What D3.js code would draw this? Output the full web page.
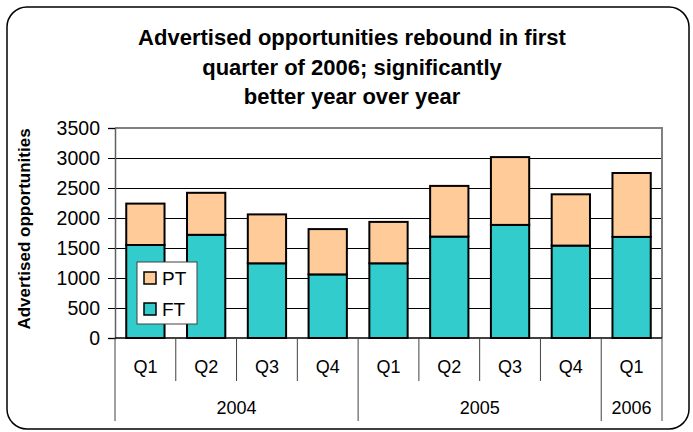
<!DOCTYPE html>
<html>
<head>
<meta charset="utf-8">
<script src="https://cdn.jsdelivr.net/npm/d3@7"></script>
<style>
  html, body { margin: 0; padding: 0; background: #fff; }
  svg { display: block; font-family: "Liberation Sans", Arial, sans-serif; }
</style>
</head>
<body>
<svg id="chart" width="693" height="432"></svg>
<script>
// Quarterly advertised opportunities, full-time and part-time
const quarters = ["Q1", "Q2", "Q3", "Q4", "Q1", "Q2", "Q3", "Q4", "Q1"];
const years = ["2004", "2004", "2004", "2004", "2005", "2005", "2005", "2005", "2006"];
const ftValues = [1550, 1720, 1245, 1060, 1245, 1690, 1885, 1540, 1685];
const ptValues = [690, 700, 815, 755, 690, 845, 1130, 855, 1065];
const yTicks = [0, 500, 1000, 1500, 2000, 2500, 3000, 3500];
const seriesNames = ["FT", "PT"];
const seriesColors = ["#33CCCC", "#FFCC99"];
const titleLines = ["Advertised opportunities rebound in first",
                    "quarter of 2006; significantly",
                    "better year over year"];
const yTitle = "Advertised opportunities";

const svg = d3.select("#chart");
const plot = { left: 115, right: 662, top: 128, bottom: 338 };
const labelFont = 18;

// outer frame with rounded corners
svg.append("rect")
  .attr("x", 7).attr("y", 7).attr("width", 682).attr("height", 422)
  .attr("rx", 20).attr("ry", 20)
  .attr("fill", "#fff").attr("stroke", "#000").attr("stroke-width", 1.5);

// title
svg.append("g").selectAll("text").data(titleLines).join("text")
  .attr("x", 352).attr("y", (d, i) => 45 + i * 29.5)
  .attr("text-anchor", "middle")
  .attr("font-size", 22).attr("font-weight", "bold")
  .text(d => d);

const idx = d3.range(quarters.length);
const x = d3.scaleBand().domain(idx).range([plot.left, plot.right])
  .paddingInner(0.37).paddingOuter(0.185);
const step = x.step();
const y = d3.scaleLinear().domain([0, 3500]).range([plot.bottom, plot.top]);

// gridlines
svg.append("g").selectAll("line").data(yTicks.filter(t => t > 0 && t < 3500)).join("line")
  .attr("x1", plot.left).attr("x2", plot.right)
  .attr("y1", d => Math.round(y(d)) + 0.5).attr("y2", d => Math.round(y(d)) + 0.5)
  .attr("stroke", "#000").attr("stroke-width", 1);

// plot area border (top and right)
svg.append("path")
  .attr("d", `M${plot.left},${y(3500)}H${plot.right}V${plot.bottom}`)
  .attr("fill", "none").attr("stroke", "#808080").attr("stroke-width", 2);

// stacked bars
const rows = idx.map(i => ({ i, FT: ftValues[i], PT: ptValues[i] }));
const stacked = d3.stack().keys(seriesNames)(rows);
const color = d3.scaleOrdinal().domain(seriesNames).range(seriesColors);

svg.append("g").selectAll("g").data(stacked).join("g")
  .attr("fill", d => color(d.key))
  .selectAll("rect").data(d => d).join("rect")
  .attr("x", d => x(d.data.i))
  .attr("width", x.bandwidth())
  .attr("y", d => y(d[1]))
  .attr("height", d => y(d[0]) - y(d[1]))
  .attr("stroke", "#000").attr("stroke-width", 2);

// value axis
const yAxis = d3.axisLeft(y).tickValues(yTicks).tickSize(7).tickPadding(8).tickFormat(d3.format("d"));
const gy = svg.append("g").attr("transform", `translate(${plot.left},0)`).call(yAxis);
gy.select(".domain").attr("stroke", "#606060").attr("stroke-width", 1.5);
gy.selectAll(".tick line").attr("stroke", "#000");
gy.selectAll(".tick text").attr("font-size", 19.5).attr("fill", "#000")
  .attr("font-family", "Liberation Sans, Arial, sans-serif");

// value axis title
svg.append("text")
  .attr("transform", `translate(30,${(plot.top + plot.bottom) / 2 - 4}) rotate(-90)`)
  .attr("text-anchor", "middle")
  .attr("font-size", 17).attr("font-weight", "bold")
  .text(yTitle);

// category axis: baseline, separators, quarter and year labels
svg.append("line")
  .attr("x1", plot.left).attr("x2", plot.right)
  .attr("y1", plot.bottom).attr("y2", plot.bottom)
  .attr("stroke", "#000").attr("stroke-width", 1.5);

const bounds = d3.range(quarters.length + 1);
const isYearBound = b => b === 0 || b === quarters.length || years[b] !== years[b - 1];
svg.append("g").selectAll("line").data(bounds).join("line")
  .attr("x1", b => plot.left + b * step).attr("x2", b => plot.left + b * step)
  .attr("y1", plot.bottom).attr("y2", b => isYearBound(b) ? 421 : 381)
  .attr("stroke", "#404040").attr("stroke-width", 1);

svg.append("g").selectAll("text").data(idx).join("text")
  .attr("x", i => plot.left + (i + 0.5) * step)
  .attr("y", 373)
  .attr("text-anchor", "middle").attr("font-size", labelFont)
  .text(i => quarters[i]);

const yearGroups = d3.groups(idx, i => years[i]);
svg.append("g").selectAll("text").data(yearGroups).join("text")
  .attr("x", g => plot.left + (d3.min(g[1]) + d3.max(g[1]) + 1) / 2 * step)
  .attr("y", 414)
  .attr("text-anchor", "middle").attr("font-size", labelFont)
  .text(g => g[0]);

// legend
const lg = svg.append("g").attr("transform", "translate(137,262)");
lg.append("rect").attr("width", 60).attr("height", 62)
  .attr("fill", "#fff").attr("stroke", "#404040").attr("stroke-width", 1);
const legendItems = ["PT", "FT"];
lg.selectAll("g.item").data(legendItems).join("g").attr("class", "item")
  .attr("transform", (d, i) => `translate(7,${10 + i * 31})`)
  .each(function (d) {
    const g = d3.select(this);
    g.append("rect").attr("width", 12).attr("height", 12)
      .attr("fill", color(d)).attr("stroke", "#000").attr("stroke-width", 1.5);
    g.append("text").attr("x", 18).attr("y", 13)
      .attr("font-size", 19).text(d);
  });
</script>
</body>
</html>
